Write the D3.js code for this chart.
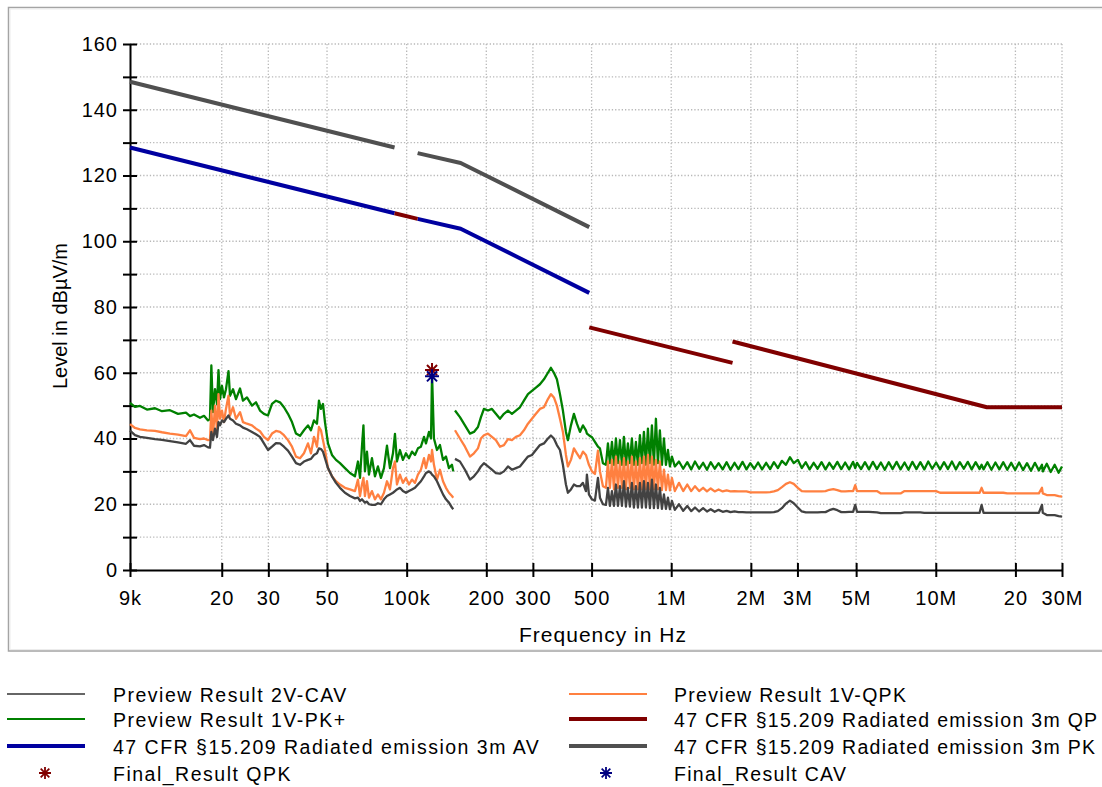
<!DOCTYPE html>
<html><head><meta charset="utf-8">
<script src="https://cdn.jsdelivr.net/npm/d3@7"></script>
<style>
html,body{margin:0;padding:0;background:#fff;}
svg{display:block;font-family:"Liberation Sans",Arial,sans-serif;}
</style></head><body>
<svg id="chart" width="1102" height="787"></svg>
<script>
// ---------- DATA (frequencies in kHz, levels in dBµV/m) ----------
const xTickValues = [9,20,30,50,100,200,300,500,1000,2000,3000,5000,10000,20000,30000];
const xTickLabels = ["9k","20","30","50","100k","200","300","500","1M","2M","3M","5M","10M","20","30M"];
const yTickValues = [0,10,20,30,40,50,60,70,80,90,100,110,120,130,140,150,160];
const yTickLabels = ["0","","20","","40","","60","","80","","100","","120","","140","","160"];

// Segment 9 kHz - 150 kHz
const freqA = [9.0,9.40,9.82,10.43,11.19,11.89,12.74,13.67,14.65,15.17,15.71,16.55,17.14,17.75,18.05,18.27,18.53,18.86,19.19,19.44,
19.70,20.04,20.39,20.75,21.21,21.49,22.06,22.64,23.45,24.06,24.91,26.02,26.94,27.9,28.88,29.91,30.97,32.07,33.2,34.37,
35.59,36.86,38.17,39.52,40.91,42.36,43.48,44.63,45.81,46.61,47.43,48.27,49.12,50.42,52.2,54.05,55.97,58.44,61.06,63.77,
65.45,66.62,67.76,68.65,69.55,70.78,72.03,73.93,75.88,77.89,79.96,82.07,84.25,86.47,88.77,90.32,91.9,94.32,96.8,99.4,
102,104.7,107.5,110.3,113.2,116.3,118.3,121.4,123.6,124.7,126.8,130.2,133.6,137.2,140.8,144.5,148.3,150];
const pkA = [50.8,49.6,49.9,48.8,49.2,48.3,48.6,47.5,47.9,46.8,47.3,46.3,46.9,45.5,45.9,62.2,48.0,55.0,50.5,60.8,
52.0,56.0,52.5,55.0,60.5,53.0,55.0,52.0,55.2,51.5,52.5,50.0,51.0,48.5,47.5,47.0,50.5,51.5,51.0,49.5,
47.5,45.0,41.5,40.8,42.5,44.0,42.5,45.5,44.5,51.5,49.0,50.5,45.0,38.5,35.0,33.5,32.5,31.0,29.5,28.5,
33.0,28.0,37.5,44.0,30.0,36.0,29.0,34.0,28.5,31.5,28.0,31.0,37.8,31.0,35.5,41.4,33.0,36.5,33.5,35.5,
34.0,36.0,35.0,37.0,37.5,40.5,38.5,42.0,40.0,59.5,40.0,36.5,38.0,33.5,34.5,31.0,32.0,30.0];
const qpkA = [44.4,43.2,42.8,42.5,42.3,41.9,41.5,41.2,40.7,42.5,40.2,39.8,40.0,39.5,39.6,48.5,40.5,50.0,42.5,53.5,
46.0,48.5,45.0,49.0,53.0,47.0,49.5,46.0,48.0,45.0,44.5,44.0,43.0,42.2,40.5,39.5,41.5,42.3,42.0,41.0,
39.5,37.5,34.5,34.0,35.5,38.5,35.5,40.5,37.5,43.5,42.5,39.5,36.5,31.0,28.5,27.0,26.0,25.0,24.5,24.0,
27.5,22.5,26.0,28.0,22.5,27.0,22.0,24.0,21.5,23.0,21.5,23.5,27.0,24.5,31.0,33.0,26.0,29.0,26.5,28.0,
26.0,27.5,26.5,29.0,30.5,34.0,31.0,35.0,33.0,36.5,32.0,27.5,30.5,27.0,25.0,23.5,22.5,22.0];
const cavA = [42.4,41.0,40.5,40.2,39.8,39.6,39.2,38.8,38.4,39.5,37.8,37.6,38.0,37.3,37.2,42.0,39.5,43.0,40.5,45.0,
44.0,45.5,45.0,46.0,47.0,46.0,45.5,44.5,44.0,43.3,42.8,42.0,41.3,40.5,38.5,36.5,37.5,38.6,38.5,37.5,
36.3,34.5,32.5,32.0,33.0,33.5,33.8,35.0,35.5,37.0,36.8,36.0,34.0,31.0,28.5,26.5,25.0,23.5,22.5,21.8,
22.0,21.0,21.5,21.0,20.5,20.8,20.0,19.8,19.8,20.3,20.0,21.5,22.5,23.0,23.5,24.0,24.5,25.0,24.0,23.5,
24.0,24.5,25.0,26.0,27.0,28.5,29.5,30.0,29.5,29.0,28.5,27.0,25.0,23.0,21.5,20.5,19.0,18.5];

// Segment 150 kHz - 30 MHz
const freqB = [152.3,159,166.1,173.5,179.6,186,190.9,195.9,202.9,210,217.4,225.2,233.2,241.5,250,258.8,268,277.5,287.4,297.5,
308,319,330.3,342,350.9,360.2,369.7,379.7,389.6,400,406.9,417.8,428.8,440.1,452,463.7,476,480.1,488.6,501.5,
514.8,528.5,537.8,552,566.6,576.5,586.6,597,607.5,618,629,640,651.3,662.6,674.2,686,698,710,722.7,735.4,
748.4,761.6,774.9,788.5,802.3,816.5,830.8,845.4,860.1,875.3,890.7,906,922.3,938.6,955.1,971.8,988.7,1006,1032,
1070,1110,1150,1190,1230,1275,1320,1365,1410,1460,1510,1565,1620,1675,1735,1795,1860,1925,1990,2060,
2130,2205,2285,2365,2445,2530,2620,2715,2810,2905,3010,3115,3225,3335,3455,3575,3700,3830,3960,4100,
4245,4395,4545,4705,4870,4960,5040,5220,5400,5590,5785,5990,6200,6415,6640,6870,7110,7360,7620,7885,
8160,8450,8745,9050,9365,9695,10030,10380,10745,11120,11510,11915,12330,12760,13210,13670,14150,14645,14900,15155,
15685,16235,16805,17390,18000,18630,19280,19955,20655,21375,22125,22900,23700,24530,25200,25385,26275,27195,28145,29130,30000];
const pkB = [48.5,46.5,44.0,41.5,42.0,43.5,46.5,49.0,48.5,49.0,47.5,46.0,47.5,48.5,47.5,48.5,49.5,51.5,53.5,54.5,
55.5,56.5,58.0,60.0,61.5,60.0,58.0,53.5,48.5,42.0,39.5,44.0,47.5,44.5,42.0,44.0,42.5,41.5,41.0,40.4,
39.0,37.5,37.0,32.5,32.0,38.5,32.5,39.0,32.0,40.0,32.5,39.5,32.0,40.5,32.0,38.5,32.5,40.0,32.0,39.0,
32.0,41.0,32.5,42.0,32.0,43.0,32.5,44.0,32.0,46.0,32.5,42.5,32.0,40.0,32.0,36.5,31.5,34.5,31.5,
33.0,30.8,32.8,30.6,33.0,30.8,32.6,30.5,32.8,30.8,32.5,30.6,32.8,30.5,32.6,30.7,32.9,30.6,32.5,30.8,
32.7,30.6,32.6,30.7,32.8,31.0,33.2,32.0,34.3,32.5,33.5,31.0,32.8,30.6,32.6,30.8,32.8,30.6,32.6,30.8,
32.9,30.7,32.7,30.6,32.9,31.0,32.6,30.7,32.8,30.6,32.9,30.7,32.7,30.5,32.8,30.7,32.9,30.6,32.7,30.5,
32.9,30.7,32.8,30.6,33.0,30.8,32.7,30.6,32.8,30.7,33.0,30.6,32.8,30.8,32.9,30.6,32.8,30.7,32.0,30.6,
32.8,30.5,32.7,30.6,32.8,30.5,32.6,30.4,32.7,30.4,32.5,30.2,32.6,30.3,32.0,30.0,32.3,29.8,32.0,29.6,31.5];
const qpkB = [42.5,40.0,37.5,34.5,35.5,37.0,40.0,41.0,41.5,40.5,39.5,37.5,38.0,39.8,39.5,40.5,41.0,42.5,44.5,46.0,
47.5,49.0,49.5,52.0,53.5,52.5,50.0,46.0,42.0,35.0,31.5,33.5,37.0,35.5,34.0,36.0,35.0,34.0,32.0,30.0,
29.2,36.3,30.0,25.5,25.0,33.0,25.0,33.5,24.5,34.5,25.0,33.0,25.0,34.0,24.5,33.0,25.0,34.5,24.5,33.0,
24.5,34.0,24.5,34.5,24.5,35.0,24.5,34.5,24.5,33.5,24.5,33.0,24.3,30.5,24.3,29.0,24.2,28.0,24.0,
26.5,24.0,26.0,24.0,25.5,24.0,25.0,23.9,24.8,23.9,24.5,23.9,24.2,23.9,24.0,23.9,23.9,23.9,23.6,23.6,
23.6,23.6,23.6,23.7,23.9,24.3,25.2,26.2,26.7,26.2,25.0,24.0,23.9,23.9,23.9,23.9,23.9,24.0,24.4,24.6,
24.3,23.9,23.9,24.0,24.0,25.8,24.0,24.0,24.0,24.0,24.0,24.0,23.3,23.3,23.3,23.3,23.3,23.3,24.0,24.0,
24.0,24.0,24.0,24.0,24.0,24.0,24.0,23.5,23.5,23.5,23.5,23.5,23.5,23.5,23.5,23.5,23.5,23.5,25.0,23.5,
23.5,23.5,23.5,23.5,23.5,23.3,23.3,23.3,23.3,23.3,23.3,23.3,23.3,23.3,25.0,23.3,22.8,22.8,22.8,22.5,22.3];
const cavB = [33.8,33.0,30.5,27.5,28.5,30.0,31.5,32.5,31.5,30.5,29.5,29.3,30.0,31.5,30.5,31.0,31.5,33.0,34.5,35.0,
36.5,38.0,38.5,40.0,40.9,40.0,38.0,36.5,32.0,26.0,23.5,24.5,26.0,25.5,25.5,26.5,24.0,29.0,23.0,21.5,
21.1,28.0,22.0,20.0,19.8,25.0,19.5,24.0,19.5,26.0,19.5,25.5,19.5,27.0,19.3,25.0,19.3,26.5,19.0,25.5,
19.0,26.5,19.0,27.0,19.0,26.5,18.8,27.5,18.8,26.0,18.8,25.0,18.6,23.0,18.6,22.0,18.5,21.0,18.3,
20.0,18.0,19.5,17.9,19.0,17.8,18.8,17.8,18.5,17.7,18.3,17.7,18.0,17.6,17.8,17.6,17.6,17.5,17.5,17.5,
17.5,17.5,17.5,17.5,17.6,17.9,18.8,20.2,21.1,20.3,19.0,17.8,17.5,17.5,17.5,17.5,17.6,17.6,18.2,18.6,
18.2,17.6,17.6,17.7,17.7,19.8,17.7,17.7,17.7,17.7,17.6,17.5,17.3,17.3,17.3,17.3,17.3,17.3,17.5,17.5,
17.5,17.5,17.5,17.4,17.4,17.4,17.4,17.4,17.4,17.4,17.4,17.4,17.4,17.4,17.4,17.4,17.4,17.4,19.8,17.4,
17.4,17.4,17.4,17.4,17.4,17.4,17.4,17.4,17.4,17.4,17.4,17.4,17.4,17.4,19.8,17.4,16.7,16.7,16.7,16.4,16.2];

// Limit lines (47 CFR §15.209, 3 m) as [kHz, dBµV/m] breakpoints
const limitPK = [[[9,148.5],[90,128.5]], [[110,126.8],[160,123.8],[490,104.3]]];
const limitAV = [[[9,128.5],[90,108.5]], [[110,106.8],[160,103.8],[490,84.3]]];
const limitQP = [[[90,108.5],[110,106.8]], [[490,73.8],[1705,63.0]], [[1705,69.5],[15600,49.5],[30000,49.5]]];

// Final results
const finalQPK = [[124.7,60.8]];
const finalCAV = [[124.7,58.9]];

const legendLabels = [
  "Preview Result 2V-CAV","Preview Result 1V-QPK",
  "Preview Result 1V-PK+","47 CFR §15.209 Radiated emission 3m QP",
  "47 CFR §15.209 Radiated emission 3m AV","47 CFR §15.209 Radiated emission 3m PK",
  "Final_Result QPK","Final_Result CAV"];

// ---------- DRAWING ----------
const svg = d3.select('#chart');
svg.append('rect').attr('width',1102).attr('height',787).attr('fill','#fff');

const x = d3.scaleLog().domain([9,30000]).range([130,1062]);
const y = d3.scaleLinear().domain([0,160]).range([570,44]);

// frame
svg.append('rect').attr('x',8.5).attr('y',7.5).attr('width',1200).attr('height',643.5)
  .attr('fill','none').attr('stroke','#a4a4a4').attr('stroke-width',1.5);
svg.append('rect').attr('x',10).attr('y',9).attr('width',1200).attr('height',640.5)
  .attr('fill','none').attr('stroke','#ececec').attr('stroke-width',1);

// grid
const grid = svg.append('g').attr('stroke','#b8b8b8').attr('stroke-width',1.3).attr('stroke-dasharray','1.3,2');
grid.selectAll('line.h').data(yTickValues.filter(v=>v>0)).enter().append('line')
  .attr('x1',x(9)).attr('x2',x(30000)).attr('y1',d=>y(d)).attr('y2',d=>y(d));
grid.selectAll('line.v').data(xTickValues.filter(v=>v>9)).enter().append('line')
  .attr('x1',d=>x(d)).attr('x2',d=>x(d)).attr('y1',y(160)).attr('y2',y(0));

// axes
const gy = svg.append('g').attr('transform',`translate(${x(9)},0)`)
  .call(d3.axisLeft(y).tickValues(yTickValues).tickFormat((d,i)=>yTickLabels[i]).tickSize(7).tickPadding(5).tickSizeOuter(0));
gy.selectAll('.tick line').attr('x1',-7).attr('x2',7);
const gx = svg.append('g').attr('transform',`translate(0,${y(0)})`)
  .call(d3.axisBottom(x).tickValues(xTickValues).tickFormat((d,i)=>xTickLabels[i]).tickSize(7).tickSizeOuter(0));
gx.selectAll('.tick line').attr('y1',-7).attr('y2',7);
gx.selectAll('.tick text').attr('y',35).attr('dy',null);
[gx,gy].forEach(g=>{
  g.select('.domain').attr('stroke','#000').attr('stroke-width',2);
  g.selectAll('.tick line').attr('stroke','#000').attr('stroke-width',2);
  g.selectAll('.tick text').attr('fill','#000').style('font-family','"Liberation Sans",Arial,sans-serif')
    .style('font-size','20px').style('letter-spacing','1px');
});

// axis titles
svg.append('text').attr('x',603).attr('y',642).attr('text-anchor','middle')
  .style('font-size','21px').style('letter-spacing','1px').attr('fill','#000').text('Frequency in Hz');
svg.append('text').attr('transform','translate(67,316) rotate(-90)').attr('text-anchor','middle')
  .style('font-size','20px').attr('fill','#000').text('Level in dBµV/m');

const line = d3.line().defined(d=>d[1]!=null && !isNaN(d[1])).x(d=>x(d[0])).y(d=>y(d[1]));
const zipS = (f,v)=>f.map((ff,i)=>[ff,v[i]]);

const plot = svg.append('g').attr('fill','none').attr('stroke-linejoin','round');
// limits
limitPK.forEach(s=>plot.append('path').attr('d',line(s)).attr('stroke','#505050').attr('stroke-width',4));
limitAV.forEach(s=>plot.append('path').attr('d',line(s)).attr('stroke','#0000a0').attr('stroke-width',4));
limitQP.forEach(s=>plot.append('path').attr('d',line(s)).attr('stroke','#800000').attr('stroke-width',4));

// traces
const traces = [
  {segs:[zipS(freqA,pkA),zipS(freqB,pkB)], color:'#008000'},
  {segs:[zipS(freqA,qpkA),zipS(freqB,qpkB)], color:'#ff8040'},
  {segs:[zipS(freqA,cavA),zipS(freqB,cavB)], color:'#424242'}
];
traces.forEach(t=>t.segs.forEach(s=>plot.append('path').attr('d',line(s)).attr('stroke',t.color).attr('stroke-width',2.3)));

// asterisk markers
function star(r){
  const k=r*0.72;
  return `M0,${-r}L0,${r}M${-r},0L${r},0M${-k},${-k}L${k},${k}M${-k},${k}L${k},${-k}`;
}
finalQPK.forEach(d=>svg.append('path').attr('d',star(7)).attr('transform',`translate(${x(d[0])},${y(d[1])})`)
  .attr('stroke','#800000').attr('stroke-width',2).attr('fill','none'));
finalCAV.forEach(d=>svg.append('path').attr('d',star(7)).attr('transform',`translate(${x(d[0])},${y(d[1])})`)
  .attr('stroke','#000080').attr('stroke-width',2).attr('fill','none'));

// legend
const legStyles = [
  {type:'line',color:'#666666',w:2},{type:'line',color:'#ff8040',w:2},
  {type:'line',color:'#008000',w:2},{type:'line',color:'#800000',w:4},
  {type:'line',color:'#0000a0',w:4},{type:'line',color:'#505050',w:4},
  {type:'star',color:'#800000'},{type:'star',color:'#000080'}];
const colX = [{l0:7,l1:85,sx:45,tx:113,ls:1.5},{l0:569,l1:647,sx:606,tx:674,ls:1.3}];
const rowY = [694,719,746,773];
legendLabels.forEach((lab,i)=>{
  const c=colX[i%2], r=Math.floor(i/2), st=legStyles[i], yy=rowY[r];
  if(st.type==='line'){
    svg.append('line').attr('x1',c.l0).attr('x2',c.l1).attr('y1',yy).attr('y2',yy)
      .attr('stroke',st.color).attr('stroke-width',st.w);
  } else {
    svg.append('path').attr('d',star(6)).attr('transform',`translate(${c.sx},${yy})`)
      .attr('stroke',st.color).attr('stroke-width',1.8).attr('fill','none');
  }
  svg.append('text').attr('x',c.tx).attr('y',yy+8).attr('fill','#000')
    .style('font-size','19.5px').style('letter-spacing',c.ls+'px').text(lab);
});
</script>
</body></html>
